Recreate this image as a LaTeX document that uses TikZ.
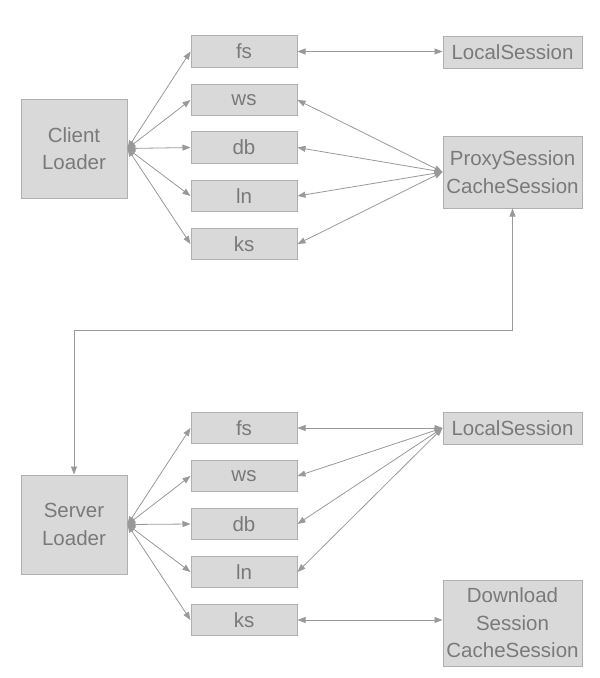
\documentclass[tikz,border=0pt]{standalone}
\usepackage{fontspec}
\setmainfont{Liberation Sans}
\usetikzlibrary{arrows.meta}
\definecolor{boxfill}{HTML}{D9D9D9}
\definecolor{boxline}{HTML}{B0B0B0}
\definecolor{txt}{HTML}{7A7A7A}
\definecolor{arr}{HTML}{999999}
\tikzset{
  box/.style={draw=boxline, fill=boxfill, line width=1pt, inner sep=0pt, text=txt,
    align=center, font=\fontsize{20.5pt}{27.5pt}\selectfont},
  small/.style={box, minimum width=106pt, minimum height=31.5pt},
  loader/.style={box, minimum width=106pt, minimum height=99pt},
  sess/.style={box, minimum width=139pt},
  link/.style={draw=arr, line width=0.8pt, {Triangle[length=8pt,width=6pt]}-{Triangle[length=8pt,width=6pt]}}
}
\begin{document}
\begin{tikzpicture}[x=1pt,y=-1pt]
\useasboundingbox (0,0) rectangle (600,678);
% top half
\node[loader] (client) at (74,148.5) {Client\\Loader};
\node[small] (cfs) at (244,51.5) {fs};
\node[small] (cws) at (244,100) {ws};
\node[small] (cdb) at (244,147.5) {db};
\node[small] (cln) at (244,196) {ln};
\node[small] (cks) at (244,244) {ks};
\node[sess, minimum height=32pt] (clocal) at (512.5,52) {LocalSession};
\node[sess, minimum height=72pt] (proxy) at (512.5,172) {ProxySession\\CacheSession};
% bottom half
\node[loader] (server) at (74,524.5) {Server\\Loader};
\node[small] (sfs) at (244,428) {fs};
\node[small] (sws) at (244,476) {ws};
\node[small] (sdb) at (244,524) {db};
\node[small] (sln) at (244,572) {ln};
\node[small] (sks) at (244,620) {ks};
\node[sess, minimum height=32pt] (slocal) at (512.5,428) {LocalSession};
\node[sess, minimum height=86pt] (download) at (512.5,623) {Download\\Session\\CacheSession};
% top connectors
\foreach \n in {cfs,cws,cdb,cln,cks} \draw[link] (client.east) -- (\n.west);
\draw[link] (cfs.east) -- (clocal.west |- cfs.east);
\foreach \n in {cws,cdb,cln,cks} \draw[link] (proxy.west) -- (\n.east);
% bottom connectors
\foreach \n in {sfs,sws,sdb,sln,sks} \draw[link] (server.east) -- (\n.west);
\foreach \n in {sfs,sws,sdb,sln} \draw[link] (slocal.west) -- (\n.east);
\draw[link] (sks.east) -- (download.west |- sks.east);
% link between halves
\coordinate (turn) at (512.5,330);
\draw[link] (proxy.south) -- (turn) -| (server.north);
\end{tikzpicture}
\end{document}
